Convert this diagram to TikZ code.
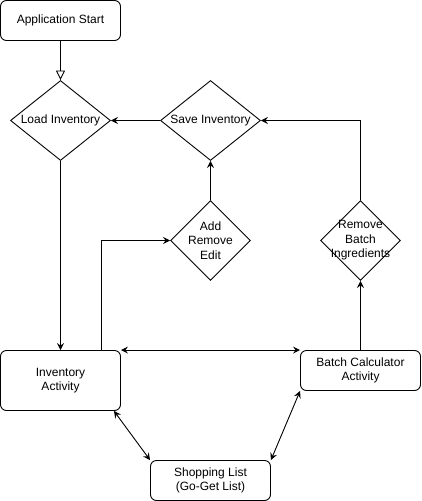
\documentclass[tikz,border=0pt]{standalone}
\usepackage{fontspec}
\setmainfont{Liberation Sans}
\usetikzlibrary{arrows.meta,shapes.geometric,calc}
\begin{document}
\begin{tikzpicture}[x=1pt,y=-1pt,
  lw/.style={line width=0.9pt},
  box/.style={lw,draw,rectangle,rounded corners=6pt,inner sep=0pt,minimum width=120pt,align=center,font=\fontsize{12}{14.4}\selectfont},
  dia/.style={lw,draw,diamond,inner sep=0pt},
  txt/.style={inner sep=0pt,align=center,font=\fontsize{12}{14.4}\selectfont},
  arr/.style={lw,-{Stealth[length=7pt,width=7pt,inset=2.5pt]}},
  darr/.style={lw,{Stealth[length=7pt,width=7pt,inset=2.5pt]}-{Stealth[length=7pt,width=7pt,inset=2.5pt]}},
  oarr/.style={lw,-{Triangle[open,length=9.5pt,width=9pt]}}
]
\useasboundingbox (0,0) rectangle (421,501);
\node[box,minimum height=40pt] (as) at (60.5,20.5) {Application Start};
\node[dia,minimum width=100pt,minimum height=80pt] (li) at (60.5,120.5) {};
\node[txt] (lit) at (li) {Load Inventory};
\node[dia,minimum width=100pt,minimum height=80pt] (si) at (210.5,120.5) {};
\node[txt] (sit) at (si) {Save Inventory};
\node[dia,minimum width=80pt,minimum height=80pt] (are) at (210.5,240.5) {};
\node[txt] (aret) at (are) {Add\\Remove\\Edit};
\node[dia,minimum width=80pt,minimum height=80pt] (rb) at (360.5,240.5) {};
\node[txt] (rbt) at (rb) {Remove\\Batch\\Ingredients};
\node[box,minimum height=60pt] (ia) at (60.5,380.5) {Inventory\\Activity};
\node[box,minimum height=40pt] (bc) at (360.5,370.5) {Batch Calculator\\Activity};
\node[box,minimum height=40pt] (sl) at (210.5,480.5) {Shopping List\\(Go-Get List)};

\draw[oarr] (as.south) -- (li.north);
\draw[arr] (si.west) -- (li.east);
\draw[arr] (li.south) -- (ia.north);
\draw[arr] ([xshift=-20pt]ia.north east) |- (are.west);
\draw[arr] (are.north) -- (si.south);
\draw[arr] (rb.north) |- (si.east);
\draw[arr] (bc.north) -- (rb.south);
\draw[darr] (ia.north east) -- (bc.north west);
\draw[darr] ([xshift=-7pt]ia.south east) -- (sl.north west);
\draw[darr] (sl.north east) -- (bc.south west);
\end{tikzpicture}
\end{document}
